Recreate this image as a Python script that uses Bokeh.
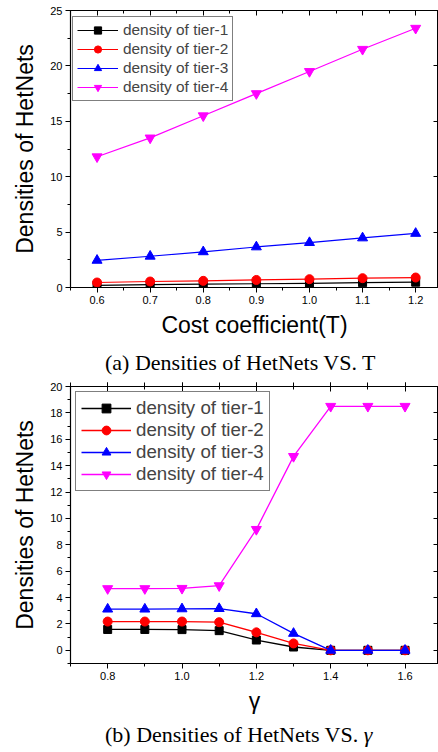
from bokeh.plotting import figure
from bokeh.models import (LinearAxis, SingleIntervalTicker, PrintfTickFormatter, Legend,
                          LegendItem, Range1d, CustomLabelingPolicy, Div)
from bokeh.layouts import column
from bokeh.embed import file_html
from bokeh.resources import INLINE

# ---- data (a) ----
T = [0.6, 0.7, 0.8, 0.9, 1.0, 1.1, 1.2]
a_tier1 = [0.20, 0.26, 0.30, 0.34, 0.38, 0.44, 0.48]
a_tier2 = [0.45, 0.54, 0.60, 0.68, 0.75, 0.84, 0.90]
a_tier3 = [2.45, 2.82, 3.22, 3.66, 4.05, 4.47, 4.88]
a_tier4 = [11.8, 13.5, 15.5, 17.5, 19.5, 21.5, 23.4]

# ---- data (b) ----
G = [0.8, 0.9, 1.0, 1.1, 1.2, 1.3, 1.4, 1.5, 1.6]
b_tier1 = [1.58, 1.58, 1.57, 1.49, 0.78, 0.25, 0.0, 0.0, 0.0]
b_tier2 = [2.18, 2.18, 2.18, 2.13, 1.36, 0.52, 0.0, 0.0, 0.0]
b_tier3 = [3.12, 3.12, 3.14, 3.16, 2.77, 1.28, 0.0, 0.0, 0.0]
b_tier4 = [4.68, 4.68, 4.70, 4.90, 9.17, 14.7, 18.5, 18.5, 18.5]

labels = ["density of tier-1", "density of tier-2", "density of tier-3", "density of tier-4"]
colors = ["#000000", "#ff0000", "#0000ff", "#ff00ff"]
markers = ["square", "circle", "triangle", "inverted_triangle"]
msizes = [8, 9, 10, 10]

SANS = "Liberation Sans"
SERIF = "Liberation Serif"

NO_LABELS = """
for (let i = 0; i < indices.size; i++) { indices.unset(i) }
return indices
"""


def style_axes(p, xint, xminor, yint, yminor, xfmt):
    xa = p.xaxis[0]
    ya = p.yaxis[0]
    xa.ticker = SingleIntervalTicker(interval=xint, num_minor_ticks=xminor)
    ya.ticker = SingleIntervalTicker(interval=yint, num_minor_ticks=yminor)
    xa.formatter = PrintfTickFormatter(format=xfmt)
    for ax in (xa, ya):
        ax.major_tick_out = 5
        ax.major_tick_in = 0
        ax.minor_tick_out = 3
        ax.minor_tick_in = 0
        ax.major_label_text_font = SANS
        ax.major_label_text_font_size = "11px"
        ax.major_label_text_color = "#000000"
        ax.axis_label_text_font = SANS
        ax.axis_label_text_font_size = "23px"
        ax.axis_label_text_font_style = "normal"
        ax.axis_label_text_color = "#000000"
        ax.axis_line_color = "#000000"
        ax.major_tick_line_color = "#000000"
        ax.minor_tick_line_color = "#000000"
        ax.axis_line_width = 1.2
        ax.major_label_standoff = 3
    top = LinearAxis(ticker=SingleIntervalTicker(interval=xint, num_minor_ticks=xminor),
                     major_tick_in=5, major_tick_out=0, minor_tick_in=3, minor_tick_out=0,
                     major_label_policy=CustomLabelingPolicy(code=NO_LABELS),
                     major_label_text_font_size="0px", major_label_standoff=0,
                     axis_line_color="#000000")
    p.add_layout(top, "above")
    right = LinearAxis(ticker=SingleIntervalTicker(interval=yint, num_minor_ticks=yminor),
                       major_tick_in=5, major_tick_out=0, minor_tick_in=0, minor_tick_out=0,
                       major_label_policy=CustomLabelingPolicy(code=NO_LABELS),
                       major_label_text_font_size="0px", major_label_standoff=0,
                       axis_line_color="#000000")
    p.add_layout(right, "right")
    p.xgrid.visible = False
    p.ygrid.visible = False
    p.outline_line_color = "#000000"


def draw(p, x, ys, glyph_w, glyph_h, font_size, lw, loc, pad, spacing):
    items = []
    for y, lab, c, m, s in zip(ys, labels, colors, markers, msizes):
        r1 = p.line(x, y, line_color=c, line_width=lw)
        r2 = p.scatter(x, y, marker=m, size=s, fill_color=c, line_color=c)
        items.append(LegendItem(label=lab, renderers=[r1, r2]))
    leg = Legend(items=items, location=loc, margin=0, padding=pad, spacing=spacing,
                 glyph_width=glyph_w, glyph_height=glyph_h, label_height=glyph_h,
                 label_standoff=5, label_text_font=SANS, label_text_font_size=font_size,
                 border_line_color="#000000", border_line_width=1.3,
                 background_fill_alpha=1.0)
    p.add_layout(leg, "center")


def caption(html, shift, height):
    style = ("font-family:'Liberation Serif'; font-size:22px; line-height:22px; "
             "position:relative; top:%dpx; padding-left:105px; margin:0; "
             "white-space:nowrap; color:#000000" % shift)
    return Div(text='<div style="%s">%s</div>' % (style, html), width=438, height=height,
               margin=(0, 0, 0, 0))


# ---------- figure (a) ----------
p1 = figure(width=438, height=348, output_backend="svg", toolbar_location=None,
            x_range=Range1d(0.55, 1.243), y_range=Range1d(0, 25),
            min_border_left=70, min_border_right=0, min_border_top=10, min_border_bottom=61,
            x_axis_label="Cost coefficient(T)", y_axis_label="Densities of HetNets")
style_axes(p1, 0.1, 2, 5, 2, "%.1f")
p1.xaxis[0].axis_label_standoff = 14
p1.yaxis[0].axis_label_standoff = 9
draw(p1, T, [a_tier1, a_tier2, a_tier3, a_tier4], 41, 18, "15.4px", 1.2, (2, 186), 4, 1)
cap1 = caption("(a) Densities of HetNets VS. T", 4, 28)

# ---------- figure (b) ----------
p2 = figure(width=438, height=352, output_backend="svg", toolbar_location=None,
            x_range=Range1d(0.7, 1.69), y_range=Range1d(-1, 20),
            min_border_left=70, min_border_right=0, min_border_top=10, min_border_bottom=65,
            x_axis_label="γ", y_axis_label="Densities of HetNets")
style_axes(p2, 0.2, 2, 2, 2, "%.1f")
p2.xaxis[0].minor_tick_out = 4
p2.xaxis[0].major_tick_out = 4
p2.xaxis[0].axis_label_standoff = 27
p2.xaxis[0].axis_label_text_font_size = "24px"
p2.yaxis[0].axis_label_standoff = 9
draw(p2, G, [b_tier1, b_tier2, b_tier3, b_tier4], 50, 22, "18.7px", 1.3, (5, 172), 5, 0)
cap2 = caption("(b) Densities of HetNets VS. <i>γ</i>", -4, 24)

layout = column(p1, cap1, p2, cap2, spacing=0)
open("out.html", "w").write(file_html(layout, INLINE))
